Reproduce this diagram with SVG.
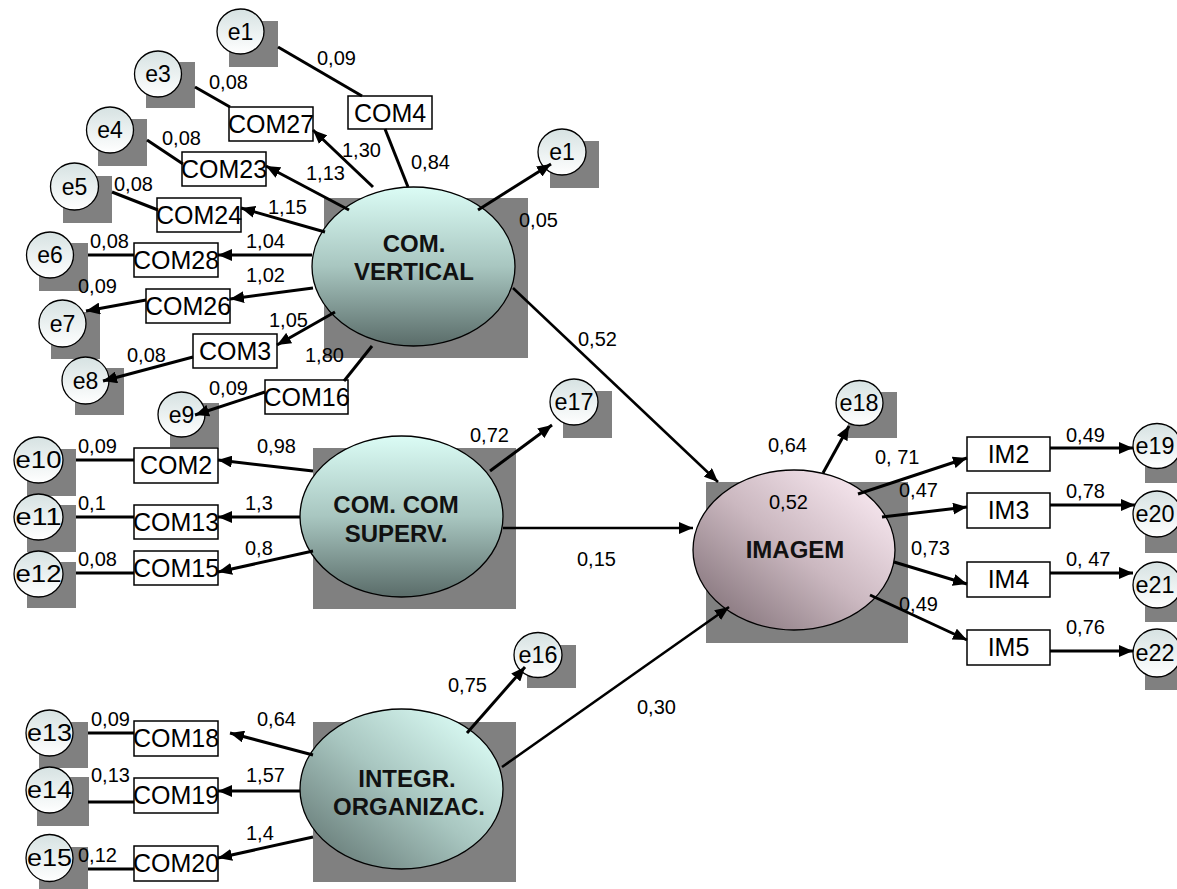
<svg xmlns="http://www.w3.org/2000/svg" width="1177" height="889" viewBox="0 0 1177 889">
<defs>
<linearGradient id="gErr" x1="0" y1="0" x2="0" y2="1"><stop offset="0" stop-color="#d6e2e2"/><stop offset="1" stop-color="#ffffff"/></linearGradient>
<linearGradient id="gV" x1="0" y1="0" x2="0" y2="1"><stop offset="0" stop-color="#dbfcf5"/><stop offset="0.5" stop-color="#a8c6c0"/><stop offset="1" stop-color="#5a6c69"/></linearGradient>
<linearGradient id="gD" x1="1" y1="0" x2="0" y2="1"><stop offset="0.1" stop-color="#dbfcf5"/><stop offset="0.5" stop-color="#a8c6c0"/><stop offset="1" stop-color="#5a6c69"/></linearGradient>
<linearGradient id="gI" x1="1" y1="0" x2="0" y2="1"><stop offset="0.1" stop-color="#f8e8f0"/><stop offset="0.5" stop-color="#cbb8c0"/><stop offset="1" stop-color="#76666d"/></linearGradient>
<marker id="ah" markerUnits="userSpaceOnUse" markerWidth="15" markerHeight="12" refX="14" refY="6" orient="auto"><path d="M0,0 L14,6 L0,12 z" fill="#000"/></marker>
</defs>
<style>
.sh{fill:#808080}
.err{fill:url(#gErr);stroke:#000;stroke-width:1.3}
.box{fill:#fff;stroke:#000;stroke-width:1.5}
.lat{stroke:#000;stroke-width:1.3}
.et{font-family:"Liberation Sans",Arial,sans-serif;font-size:23px;text-anchor:middle;fill:#000}
.bt{font-family:"Liberation Sans",Arial,sans-serif;font-size:25px;text-anchor:middle;fill:#000}
.lt{font-family:"Liberation Sans",Arial,sans-serif;font-size:24px;font-weight:bold;text-anchor:middle;fill:#111}
.ct{font-family:"Liberation Sans",Arial,sans-serif;font-size:20px;fill:#000}
#connectors line{stroke:#000;stroke-width:3;fill:none}
#connectors .a{marker-end:url(#ah)}
</style>
<rect width="1177" height="889" fill="#fff"/>

<!-- latent variables -->
<g id="comvertical"><rect class="sh" x="324" y="198" width="204" height="160"/><ellipse class="lat" cx="413.5" cy="266.5" rx="101.5" ry="79.5" fill="url(#gV)"/><text class="lt" x="414" y="252">COM.</text><text class="lt" x="414" y="280">VERTICAL</text></g>
<g id="comsuperv"><rect class="sh" x="313" y="448" width="203" height="161"/><ellipse class="lat" cx="401.5" cy="516.5" rx="101.5" ry="80.5" fill="url(#gV)"/><text class="lt" x="396" y="513">COM. COM</text><text class="lt" x="396" y="542">SUPERV.</text></g>
<g id="integr"><rect class="sh" x="313" y="722" width="203" height="160"/><ellipse class="lat" cx="401.5" cy="789" rx="101.5" ry="80" fill="url(#gD)"/><text class="lt" x="407" y="787">INTEGR.</text><text class="lt" x="409" y="815">ORGANIZAC.</text></g>
<g id="imagem"><rect class="sh" x="706" y="482" width="202" height="161"/><ellipse class="lat" cx="794" cy="550" rx="101" ry="80" fill="url(#gI)"/><text class="lt" x="795" y="558">IMAGEM</text></g>

<!-- error terms -->
<g id="e1a"><rect class="sh" x="229" y="21" width="49" height="46"/><ellipse class="err" cx="240.5" cy="31.5" rx="23.5" ry="22.5"/><text class="et" x="240.5" y="39.5">e1</text></g>
<g id="e3"><rect class="sh" x="146" y="62" width="49" height="46"/><ellipse class="err" cx="158" cy="74" rx="23.5" ry="23"/><text class="et" x="158" y="82">e3</text></g>
<g id="e4"><rect class="sh" x="98" y="119" width="49" height="47"/><ellipse class="err" cx="110" cy="130" rx="23.5" ry="23"/><text class="et" x="110" y="138">e4</text></g>
<g id="e5"><rect class="sh" x="63" y="176" width="49" height="47"/><ellipse class="err" cx="74.5" cy="186.5" rx="24" ry="23.5"/><text class="et" x="74.5" y="194.5">e5</text></g>
<g id="e6"><rect class="sh" x="39" y="243" width="49" height="48"/><ellipse class="err" cx="50" cy="255" rx="23.5" ry="23"/><text class="et" x="50" y="263">e6</text></g>
<g id="e7"><rect class="sh" x="51" y="312" width="49" height="47"/><ellipse class="err" cx="62.5" cy="323.5" rx="23.5" ry="23.5"/><text class="et" x="62.5" y="331.5">e7</text></g>
<g id="e8"><rect class="sh" x="75" y="368" width="49" height="47"/><ellipse class="err" cx="85.5" cy="380.5" rx="23.5" ry="23.5"/><text class="et" x="85.5" y="388.5">e8</text></g>
<g id="e9"><rect class="sh" x="170" y="403" width="49" height="44"/><ellipse class="err" cx="181.5" cy="414.5" rx="23.5" ry="22.5"/><text class="et" x="181.5" y="422.5">e9</text></g>
<g id="e10"><rect class="sh" x="27" y="449" width="49" height="47"/><ellipse class="err" cx="38.5" cy="460" rx="24.5" ry="23"/><text class="et" x="38.5" y="468" textLength="46" lengthAdjust="spacingAndGlyphs">e10</text></g>
<g id="e11"><rect class="sh" x="27" y="505" width="49" height="47"/><ellipse class="err" cx="38.5" cy="517" rx="24.5" ry="23"/><text class="et" x="38.5" y="525" textLength="46" lengthAdjust="spacingAndGlyphs">e11</text></g>
<g id="e12"><rect class="sh" x="27" y="562" width="49" height="46"/><ellipse class="err" cx="38.5" cy="574" rx="24.5" ry="23"/><text class="et" x="38.5" y="582" textLength="46" lengthAdjust="spacingAndGlyphs">e12</text></g>
<g id="e13"><rect class="sh" x="39" y="722" width="49" height="46"/><ellipse class="err" cx="49.5" cy="733" rx="23.5" ry="23"/><text class="et" x="49.5" y="741" textLength="45" lengthAdjust="spacingAndGlyphs">e13</text></g>
<g id="e14"><rect class="sh" x="37" y="777" width="52" height="49"/><ellipse class="err" cx="49.5" cy="790" rx="23.5" ry="23"/><text class="et" x="49.5" y="798" textLength="45" lengthAdjust="spacingAndGlyphs">e14</text></g>
<g id="e15"><rect class="sh" x="39" y="847" width="49" height="42"/><ellipse class="err" cx="49.5" cy="858" rx="23.5" ry="23.5"/><text class="et" x="49.5" y="866" textLength="45" lengthAdjust="spacingAndGlyphs">e15</text></g>
<g id="e1b"><rect class="sh" x="550" y="141" width="49" height="47"/><ellipse class="err" cx="562" cy="152" rx="24" ry="23"/><text class="et" x="562" y="160">e1</text></g>
<g id="e17"><rect class="sh" x="563" y="391" width="49" height="47"/><ellipse class="err" cx="574" cy="402" rx="24" ry="23"/><text class="et" x="574" y="410" textLength="39" lengthAdjust="spacingAndGlyphs">e17</text></g>
<g id="e18"><rect class="sh" x="848" y="392" width="49" height="46"/><ellipse class="err" cx="859.5" cy="403" rx="23.5" ry="22.5"/><text class="et" x="859" y="411" textLength="39" lengthAdjust="spacingAndGlyphs">e18</text></g>
<g id="e16"><rect class="sh" x="527" y="645" width="49" height="43"/><ellipse class="err" cx="538" cy="655" rx="24" ry="22.5"/><text class="et" x="538" y="663" textLength="39" lengthAdjust="spacingAndGlyphs">e16</text></g>
<g id="e19"><rect class="sh" x="1145" y="436" width="32" height="47"/><ellipse class="err" cx="1157" cy="446" rx="24" ry="22.5"/><text class="et" x="1155" y="454" textLength="39" lengthAdjust="spacingAndGlyphs">e19</text></g>
<g id="e20"><rect class="sh" x="1145" y="505" width="32" height="48"/><ellipse class="err" cx="1157" cy="514" rx="24" ry="23"/><text class="et" x="1155" y="522" textLength="39" lengthAdjust="spacingAndGlyphs">e20</text></g>
<g id="e21"><rect class="sh" x="1145" y="575" width="32" height="47"/><ellipse class="err" cx="1157" cy="585" rx="24" ry="23"/><text class="et" x="1155" y="593" textLength="39" lengthAdjust="spacingAndGlyphs">e21</text></g>
<g id="e22"><rect class="sh" x="1145" y="643" width="32" height="47"/><ellipse class="err" cx="1157" cy="653" rx="24" ry="24"/><text class="et" x="1155" y="661" textLength="39" lengthAdjust="spacingAndGlyphs">e22</text></g>

<!-- observed variables -->
<g id="com4"><rect class="box" x="348" y="96" width="84" height="33"/><text class="bt" x="390" y="122">COM4</text></g>
<g id="com27"><rect class="box" x="229" y="107" width="84" height="34"/><text class="bt" x="271" y="133">COM27</text></g>
<g id="com23"><rect class="box" x="182" y="152" width="84" height="34"/><text class="bt" x="224" y="178">COM23</text></g>
<g id="com24"><rect class="box" x="157" y="198" width="84" height="34"/><text class="bt" x="199" y="224">COM24</text></g>
<g id="com28"><rect class="box" x="134" y="243" width="84" height="34"/><text class="bt" x="176" y="269">COM28</text></g>
<g id="com26"><rect class="box" x="146" y="289" width="84" height="34"/><text class="bt" x="188" y="315">COM26</text></g>
<g id="com3"><rect class="box" x="193" y="334" width="84" height="34"/><text class="bt" x="235" y="360">COM3</text></g>
<g id="com16"><rect class="box" x="265" y="380" width="83" height="34"/><text class="bt" x="306.5" y="406">COM16</text></g>
<g id="com2"><rect class="box" x="134" y="448" width="84" height="35"/><text class="bt" x="176" y="474">COM2</text></g>
<g id="com13"><rect class="box" x="134" y="505" width="84" height="34"/><text class="bt" x="176" y="531">COM13</text></g>
<g id="com15"><rect class="box" x="134" y="551" width="84" height="34"/><text class="bt" x="176" y="577">COM15</text></g>
<g id="com18"><rect class="box" x="134" y="721" width="84" height="35"/><text class="bt" x="176" y="747">COM18</text></g>
<g id="com19"><rect class="box" x="134" y="778" width="84" height="35"/><text class="bt" x="176" y="804">COM19</text></g>
<g id="com20"><rect class="box" x="134" y="846" width="84" height="35"/><text class="bt" x="176" y="872">COM20</text></g>
<g id="im2"><rect class="box" x="967" y="437" width="83" height="34"/><text class="bt" x="1008.5" y="463">IM2</text></g>
<g id="im3"><rect class="box" x="967" y="493" width="83" height="35"/><text class="bt" x="1008.5" y="519">IM3</text></g>
<g id="im4"><rect class="box" x="967" y="562" width="83" height="35"/><text class="bt" x="1008.5" y="588">IM4</text></g>
<g id="im5"><rect class="box" x="967" y="630" width="83" height="35"/><text class="bt" x="1008.5" y="656">IM5</text></g>

<g id="connectors">
<line x1="278" y1="47" x2="362" y2="96"/>
<line x1="385" y1="129" x2="408" y2="187"/>
<line x1="195" y1="87" x2="230" y2="107"/>
<line x1="147" y1="140" x2="183" y2="164"/>
<line x1="112" y1="192" x2="158" y2="210"/>
<line x1="88" y1="255" x2="134" y2="255"/>
<line x1="372" y1="346" x2="344" y2="381"/>
<line x1="76" y1="460" x2="134" y2="460"/>
<line x1="76" y1="517" x2="134" y2="517"/>
<line x1="76" y1="573" x2="134" y2="573"/>
<line x1="88" y1="733" x2="134" y2="733"/>
<line x1="88" y1="802" x2="134" y2="802"/>
<line x1="88" y1="869" x2="134" y2="869"/>
<line class="a" x1="373" y1="187" x2="313" y2="130"/>
<line class="a" x1="349" y1="210" x2="266" y2="166"/>
<line class="a" x1="325" y1="232" x2="241" y2="208"/>
<line class="a" x1="312" y1="255" x2="218" y2="255"/>
<line class="a" x1="313" y1="288" x2="230" y2="299"/>
<line class="a" x1="335" y1="312" x2="277" y2="345"/>
<line class="a" x1="146" y1="300" x2="86" y2="311"/>
<line class="a" x1="193" y1="357" x2="103" y2="381"/>
<line class="a" x1="265" y1="392" x2="195" y2="415"/>
<line class="a" x1="478" y1="210" x2="551" y2="164"/>
<line class="a" x1="513" y1="288" x2="718" y2="482" style="stroke-width:2.5"/>
<line class="a" x1="313" y1="471" x2="218" y2="460"/>
<line class="a" x1="300" y1="517" x2="218" y2="517"/>
<line class="a" x1="313" y1="551" x2="218" y2="572"/>
<line class="a" x1="490" y1="471" x2="552" y2="425"/>
<line class="a" x1="503" y1="528" x2="693" y2="528" style="stroke-width:2.5"/>
<line class="a" x1="313" y1="755" x2="230" y2="733"/>
<line class="a" x1="300" y1="791" x2="218" y2="791"/>
<line class="a" x1="313" y1="837" x2="218" y2="858"/>
<line class="a" x1="467" y1="733" x2="525" y2="667"/>
<line class="a" x1="502" y1="767" x2="729" y2="607" style="stroke-width:2.5"/>
<line class="a" x1="823" y1="473" x2="849" y2="426"/>
<line class="a" x1="858" y1="494" x2="967" y2="458"/>
<line class="a" x1="882" y1="517" x2="967" y2="507"/>
<line class="a" x1="894" y1="562" x2="967" y2="584"/>
<line class="a" x1="870" y1="595" x2="967" y2="640"/>
<line class="a" x1="1050" y1="448" x2="1133" y2="448"/>
<line class="a" x1="1050" y1="505" x2="1135" y2="505"/>
<line class="a" x1="1050" y1="573" x2="1133" y2="573"/>
<line class="a" x1="1050" y1="651" x2="1133" y2="651"/>
</g>

<g id="labels">
<text class="ct" x="317" y="65">0,09</text>
<text class="ct" x="209" y="89">0,08</text>
<text class="ct" x="162" y="145">0,08</text>
<text class="ct" x="114" y="191">0,08</text>
<text class="ct" x="342" y="157">1,30</text>
<text class="ct" x="306" y="180">1,13</text>
<text class="ct" x="411" y="169">0,84</text>
<text class="ct" x="268" y="214">1,15</text>
<text class="ct" x="246" y="248">1,04</text>
<text class="ct" x="246" y="282">1,02</text>
<text class="ct" x="90" y="248">0,08</text>
<text class="ct" x="78" y="293">0,09</text>
<text class="ct" x="269" y="327">1,05</text>
<text class="ct" x="127" y="362">0,08</text>
<text class="ct" x="305" y="362">1,80</text>
<text class="ct" x="209" y="395">0,09</text>
<text class="ct" x="519" y="227">0,05</text>
<text class="ct" x="78" y="453">0,09</text>
<text class="ct" x="257" y="453">0,98</text>
<text class="ct" x="78" y="510">0,1</text>
<text class="ct" x="245" y="510">1,3</text>
<text class="ct" x="78" y="566">0,08</text>
<text class="ct" x="245" y="555">0,8</text>
<text class="ct" x="470" y="442">0,72</text>
<text class="ct" x="577" y="566">0,15</text>
<text class="ct" x="578" y="346">0,52</text>
<text class="ct" x="768" y="452">0,64</text>
<text class="ct" x="769" y="509">0,52</text>
<text class="ct" x="875" y="464">0, 71</text>
<text class="ct" x="899" y="497">0,47</text>
<text class="ct" x="911" y="555">0,73</text>
<text class="ct" x="899" y="611">0,49</text>
<text class="ct" x="1066" y="442">0,49</text>
<text class="ct" x="1066" y="498">0,78</text>
<text class="ct" x="1066" y="566">0, 47</text>
<text class="ct" x="1066" y="634">0,76</text>
<text class="ct" x="448" y="692">0,75</text>
<text class="ct" x="637" y="714">0,30</text>
<text class="ct" x="257" y="726">0,64</text>
<text class="ct" x="91" y="726">0,09</text>
<text class="ct" x="246" y="782">1,57</text>
<text class="ct" x="91" y="782">0,13</text>
<text class="ct" x="246" y="840">1,4</text>
<text class="ct" x="78" y="862">0,12</text>
</g>
</svg>
